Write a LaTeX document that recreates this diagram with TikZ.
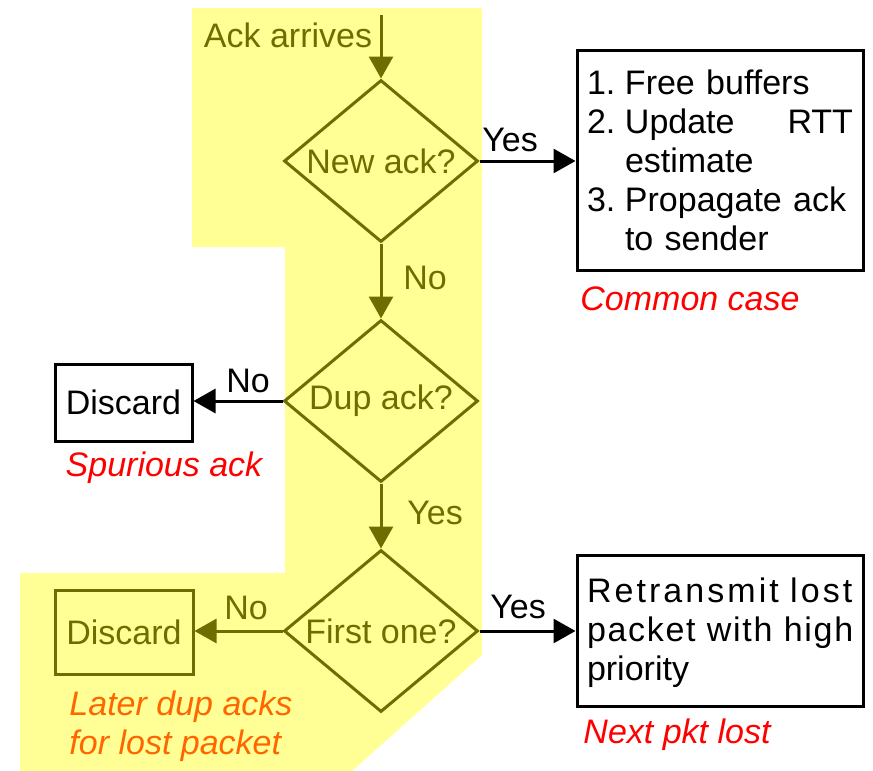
\documentclass[tikz,border=0pt]{standalone}
\usepackage{fontspec}
\setmainfont{Liberation Sans}
\usetikzlibrary{shapes.geometric,arrows.meta}

\definecolor{ackolive}{RGB}{110,110,0}
\definecolor{ackyellow}{RGB}{255,255,150}
\definecolor{ackorange}{RGB}{255,102,0}
\newcommand{\figfont}{\fontsize{17}{19.5}\selectfont}
\newcommand{\spaced}[2]{\mbox{\addfontfeature{LetterSpace=#1}#2}}

\tikzset{
  decision/.style={diamond, draw=ackolive, text=ackolive, line width=1.5pt,
    aspect=1.2, inner sep=0pt, minimum width=97pt, minimum height=81pt},
  action/.style={draw, line width=1.5pt, inner sep=5pt, align=left},
  flow/.style={line width=1.5pt, -{Triangle[length=11pt,width=12pt]}},
  note/.style={font=\figfont\itshape, inner sep=0pt},
  lbl/.style={inner sep=0pt},
}

\begin{document}
\begin{tikzpicture}[x=0.5pt, y=-0.5pt, font=\figfont]
\useasboundingbox (0,0) rectangle (873,771);

% shaded region: the duplicate ack path
\fill[ackyellow] (192,8) -- (482,8) -- (482,655) -- (352,771) -- (20,771)
  -- (20,573) -- (285,573) -- (285,247) -- (192,247) -- cycle;

\coordinate (start) at (381,15);
\node[lbl, text=ackolive] (arrives) at (288,35) {Ack arrives};

\node[decision] (newack) at (381,161) {New ack?};
\node[decision] (dupack) at (381,401) {Dup ack?};
\node[decision] (firstone) at (381,631) {First one?};

\node[action, text width=133pt, minimum height=110pt] (update) at (720,160)
{\raisebox{-2.2pt}[\height][\depth]{\begin{tabular}{@{}p{19pt}@{}p{114pt}@{}}
1.&Free buffers\\
2.&Update\hfill RTT\newline estimate\\
3.&Propagate ack\newline to sender
\end{tabular}}};
\node[note, text=red] (common) at (690,299) {Common case};

\node[action, minimum width=68.5pt, minimum height=38.5pt] (discard) at (123.5,402.5) {Discard};
\node[note, text=red] (spurious) at (164,468) {Spurious ack};

\node[action, draw=ackolive, text=ackolive, minimum width=69pt, minimum height=42pt]
  (discardlate) at (124,632) {Discard};
\node[note, text=ackorange, align=left] (later) at (181,726) {Later dup acks\\for lost packet};

\node[action, text width=133pt, minimum height=75.5pt] (retrans) at (720,630.5)
  {\raisebox{-1pt}[\height][\depth]{\parbox{133pt}{\spaced{9}{Retransmit lost}\\
  \spaced{5}{packet with high}\\priority}}};
\node[note, text=red] (nextlost) at (677,735) {Next pkt lost};

% connectors
\draw[flow, ackolive] (start) -- (newack.north);
\draw[flow] (newack.east) -- (newack.east -| update.west);
\draw[flow, ackolive] (newack.south) -- (dupack.north);
\draw[flow] (dupack.west) -- (dupack.west -| discard.east);
\draw[flow, ackolive] (dupack.south) -- (firstone.north);
\draw[flow, ackolive] (firstone.west) -- (firstone.west -| discardlate.east);
\draw[flow] (firstone.east) -- (firstone.east -| retrans.west);

% branch labels
\node[lbl] (yes1) at (510,140) {Yes};
\node[lbl, text=ackolive] (no1) at (425,278) {No};
\node[lbl] (no2) at (248,381) {No};
\node[lbl, text=ackolive] (yes2) at (435,513) {Yes};
\node[lbl, text=ackolive] (no3) at (246,608) {No};
\node[lbl] (yes3) at (518,607) {Yes};
\end{tikzpicture}
\end{document}
